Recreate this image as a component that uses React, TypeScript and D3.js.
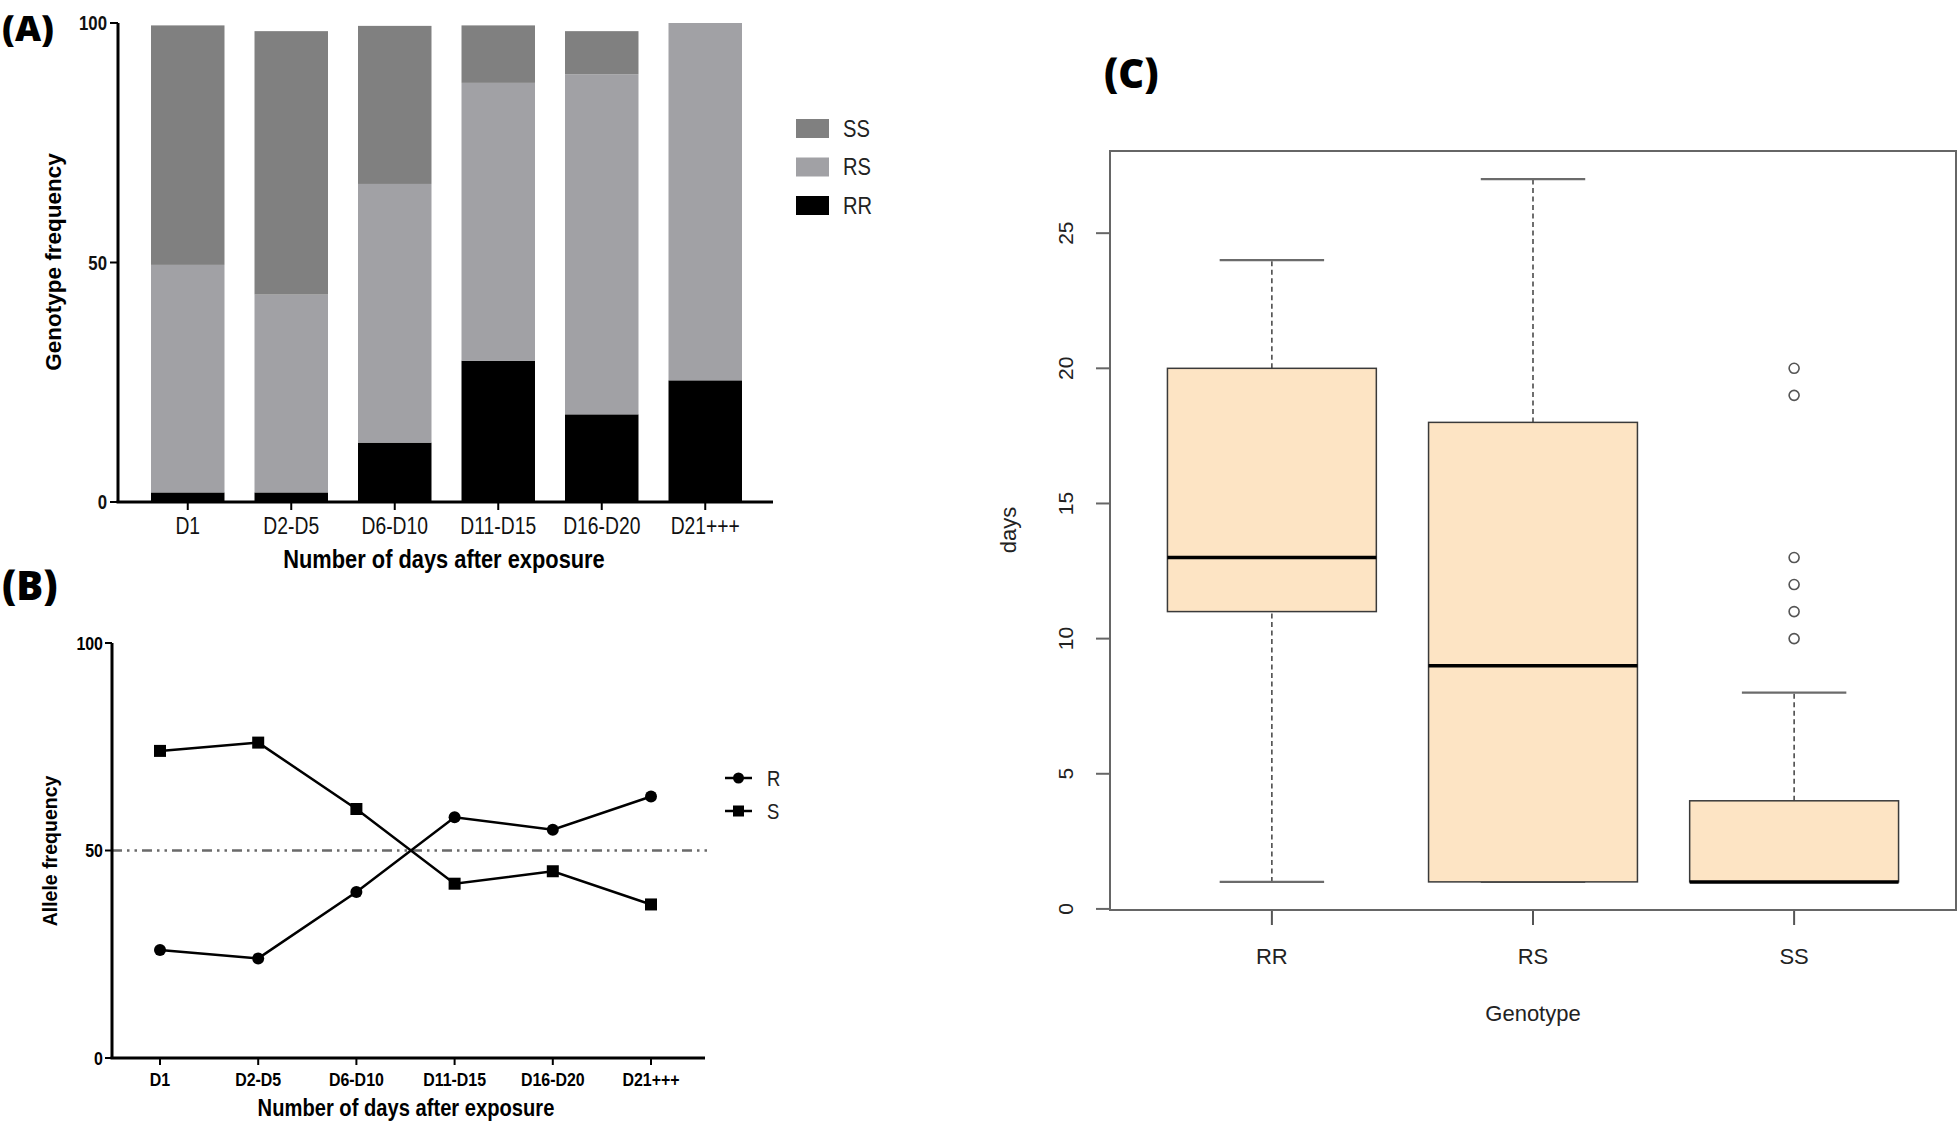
import * as d3 from "d3";

// ---- data ----
const days = ["D1", "D2-D5", "D6-D10", "D11-D15", "D16-D20", "D21+++"];
const genotypes = ["RR", "RS", "SS"];
const rrFreq = [2, 2, 12.4, 29.5, 18.3, 25.4];
const rsFreq = [47.5, 41.3, 54, 58, 71, 74.6];
const ssFreq = [50, 55, 33, 12, 9, 0];

const alleleR = [26, 24, 40, 58, 55, 63];
const alleleS = [74, 76, 60, 42, 45, 37];

const boxGroups = ["RR", "RS", "SS"];
const boxLow = [1, 1, 1];
const boxQ1 = [11, 1, 1];
const boxMedian = [13, 9, 1];
const boxQ3 = [20, 18, 4];
const boxHigh = [24, 27, 8];
const boxOutliers = [[], [], [10, 11, 12, 13, 19, 20]];

const ticksA = [0, 50, 100];
const ticksC = [0, 5, 10, 15, 20, 25];

const sans = "'Liberation Sans', Arial, sans-serif";
const labelFont = "'Open Sans', 'DejaVu Sans', sans-serif";

const fillOf: Record<string, string> = { SS: "#808080", RS: "#a1a1a5", RR: "#000000" };

// condensed text: Liberation Sans squeezed horizontally
const NText = ({ x, y, size, bold, anchor = "start", children, fill = "#111" }: any) => (
  <text
    transform={`translate(${x},${y}) scale(0.84,1)`}
    dy="0.35em"
    textAnchor={anchor}
    fontFamily={sans}
    fontWeight={bold ? "bold" : "normal"}
    fontSize={size}
    fill={fill}
  >
    {children}
  </text>
);

const PanelA = () => {
  const x = d3.scaleBand<string>().domain(days).range([136, 757]).paddingInner(0.29).paddingOuter(0.145);
  const y = d3.scaleLinear().domain([0, 100]).range([502, 23]);
  const rows = days.map((d, i) => ({ day: d, RR: rrFreq[i], RS: rsFreq[i], SS: ssFreq[i] }));
  const series = d3.stack<any>().keys(genotypes)(rows);
  const axisX = 118;
  return (
    <g>
      {series.map((s) => (
        <g key={s.key}>
          {s.map((d, i) =>
            d[1] - d[0] > 0 ? (
              <rect
                key={i}
                x={x(days[i])}
                width={x.bandwidth()}
                y={y(d[1])}
                height={y(d[0]) - y(d[1])}
                fill={fillOf[s.key]}
              />
            ) : null
          )}
        </g>
      ))}
      <line x1={axisX} x2={axisX} y1={y(100)} y2={y(0)} stroke="#000" strokeWidth={3} />
      <line x1={axisX - 1.5} x2={773} y1={y(0)} y2={y(0)} stroke="#000" strokeWidth={3} />
      {ticksA.map((t) => (
        <g key={t}>
          <line x1={axisX - 8} x2={axisX} y1={y(t)} y2={y(t)} stroke="#000" strokeWidth={2} />
          <NText x={axisX - 11} y={y(t)} anchor="end" bold size={20}>
            {t}
          </NText>
        </g>
      ))}
      {days.map((d) => {
        const cx = (x(d) ?? 0) + x.bandwidth() / 2;
        return (
          <g key={d}>
            <line x1={cx} x2={cx} y1={y(0)} y2={y(0) + 8} stroke="#000" strokeWidth={2} />
            <NText x={cx} y={526} anchor="middle" size={23}>
              {d}
            </NText>
          </g>
        );
      })}
      <NText x={444} y={559} anchor="middle" bold size={26} fill="#000">
        Number of days after exposure
      </NText>
      <text transform="translate(53,262) rotate(-90)" dy="0.35em" textAnchor="middle" fontFamily={sans} fontWeight="bold" fontSize={22.5}>
        Genotype frequency
      </text>
      {["SS", "RS", "RR"].map((g, i) => (
        <g key={g}>
          <rect x={796} y={119 + i * 38.5} width={33} height={19} fill={fillOf[g]} />
          <NText x={843} y={128.5 + i * 38.5} size={24} fill="#222">
            {g}
          </NText>
        </g>
      ))}
    </g>
  );
};

const PanelB = () => {
  const x = d3.scalePoint<string>().domain(days).range([160, 651]);
  const y = d3.scaleLinear().domain([0, 100]).range([1058, 643]);
  const axisX = 112;
  const line = d3
    .line<number>()
    .x((_, i) => x(days[i]) ?? 0)
    .y((v) => y(v));
  return (
    <g>
      <line x1={axisX} x2={712} y1={y(50)} y2={y(50)} stroke="#6a6a6a" strokeWidth={2.5} strokeDasharray="10,5,2.5,5,2.5,5" />
      <path d={line(alleleR) ?? undefined} fill="none" stroke="#000" strokeWidth={2.5} />
      <path d={line(alleleS) ?? undefined} fill="none" stroke="#000" strokeWidth={2.5} />
      {alleleR.map((v, i) => (
        <circle key={i} cx={x(days[i])} cy={y(v)} r={6} fill="#000" />
      ))}
      {alleleS.map((v, i) => (
        <rect key={i} x={(x(days[i]) ?? 0) - 6} y={y(v) - 6} width={12} height={12} fill="#000" />
      ))}
      <line x1={axisX} x2={axisX} y1={y(100)} y2={y(0)} stroke="#000" strokeWidth={3} />
      <line x1={axisX - 1.5} x2={705} y1={y(0)} y2={y(0)} stroke="#000" strokeWidth={3} />
      {ticksA.map((t) => (
        <g key={t}>
          <line x1={axisX - 7} x2={axisX} y1={y(t)} y2={y(t)} stroke="#000" strokeWidth={2} />
          <NText x={axisX - 9} y={y(t)} anchor="end" bold size={19} fill="#000">
            {t}
          </NText>
        </g>
      ))}
      {days.map((d) => {
        const cx = x(d) ?? 0;
        return (
          <g key={d}>
            <line x1={cx} x2={cx} y1={y(0)} y2={y(0) + 7} stroke="#000" strokeWidth={2} />
            <NText x={cx} y={1079} anchor="middle" bold size={19} fill="#000">
              {d}
            </NText>
          </g>
        );
      })}
      <NText x={406} y={1108} anchor="middle" bold size={24} fill="#000">
        Number of days after exposure
      </NText>
      <text transform="translate(50,851) rotate(-90)" dy="0.35em" textAnchor="middle" fontFamily={sans} fontWeight="bold" fontSize={19.5}>
        Allele frequency
      </text>
      <g transform="translate(725, 778)">
        <line x1={0} x2={27} y1={0} y2={0} stroke="#000" strokeWidth={2.5} />
        <circle cx={13.5} cy={0} r={5.5} fill="#000" />
      </g>
      <NText x={767} y={778} size={22} fill="#222">
        R
      </NText>
      <g transform="translate(725, 811)">
        <line x1={0} x2={27} y1={0} y2={0} stroke="#000" strokeWidth={2.5} />
        <rect x={8} y={-5.5} width={11} height={11} fill="#000" />
      </g>
      <NText x={767} y={811} size={22} fill="#222">
        S
      </NText>
    </g>
  );
};

const PanelC = () => {
  const x = d3.scaleLinear().domain([0.38, 3.62]).range([1110, 1956]);
  const y = d3.scaleLinear().domain([-0.04, 28.04]).range([910, 151]);
  const half = x(1.4) - x(1);
  const cap = x(1.2) - x(1);
  return (
    <g>
      {boxGroups.map((g, i) => {
        const cx = x(i + 1);
        return (
          <g key={g}>
            <line x1={cx} x2={cx} y1={y(boxQ3[i])} y2={y(boxHigh[i])} stroke="#222" strokeWidth={1.3} strokeDasharray="5,3.5" />
            <line x1={cx} x2={cx} y1={y(boxLow[i])} y2={y(boxQ1[i])} stroke="#222" strokeWidth={1.3} strokeDasharray="5,3.5" />
            <line x1={cx - cap} x2={cx + cap} y1={y(boxHigh[i])} y2={y(boxHigh[i])} stroke="#6b6b6b" strokeWidth={2.2} />
            <line x1={cx - cap} x2={cx + cap} y1={y(boxLow[i])} y2={y(boxLow[i])} stroke="#6b6b6b" strokeWidth={2.2} />
            <rect
              x={cx - half}
              width={half * 2}
              y={y(boxQ3[i])}
              height={y(boxQ1[i]) - y(boxQ3[i])}
              fill="#fde4c4"
              stroke="#3a3a3a"
              strokeWidth={1.5}
            />
            <line x1={cx - half} x2={cx + half} y1={y(boxMedian[i])} y2={y(boxMedian[i])} stroke="#000" strokeWidth={3.5} />
            {boxOutliers[i].map((o) => (
              <circle key={o} cx={cx} cy={y(o)} r={5} fill="none" stroke="#555" strokeWidth={1.6} />
            ))}
            <line x1={cx} x2={cx} y1={910} y2={925} stroke="#555" strokeWidth={2} />
            <text x={cx} y={956} dy="0.35em" textAnchor="middle" fontFamily={sans} fontSize={22} fill="#222">
              {g}
            </text>
          </g>
        );
      })}
      <rect x={1110} y={151} width={846} height={759} fill="none" stroke="#666" strokeWidth={2} />
      {ticksC.map((t) => (
        <g key={t}>
          <line x1={1096} x2={1110} y1={y(t)} y2={y(t)} stroke="#666" strokeWidth={2} />
          <text transform={`translate(1066, ${y(t)}) rotate(-90)`} dy="0.35em" textAnchor="middle" fontFamily={sans} fontSize={21} fill="#222">
            {t}
          </text>
        </g>
      ))}
      <text x={1533} y={1013} dy="0.35em" textAnchor="middle" fontFamily={sans} fontSize={22} fill="#222">
        Genotype
      </text>
      <text transform="translate(1008,530) rotate(-90)" dy="0.35em" textAnchor="middle" fontFamily={sans} fontSize={22} fill="#222">
        days
      </text>
    </g>
  );
};

export default function App() {
  return (
    <svg
      width={1959}
      height={1122}
      viewBox="0 0 1959 1122"
      style={{ position: "absolute", left: 0, top: 0, background: "#fff" }}
    >
      <rect width={1959} height={1122} fill="#fff" />
      <PanelA />
      <PanelB />
      <PanelC />
      <text x={2} y={41} fontFamily={labelFont} fontWeight="800" fontSize={36} fill="#000">
        (A)
      </text>
      <text x={2} y={600} fontFamily={labelFont} fontWeight="800" fontSize={40} fill="#000">
        (B)
      </text>
      <text x={1104} y={88} fontFamily={labelFont} fontWeight="800" fontSize={40} fill="#000">
        (C)
      </text>
    </svg>
  );
}
